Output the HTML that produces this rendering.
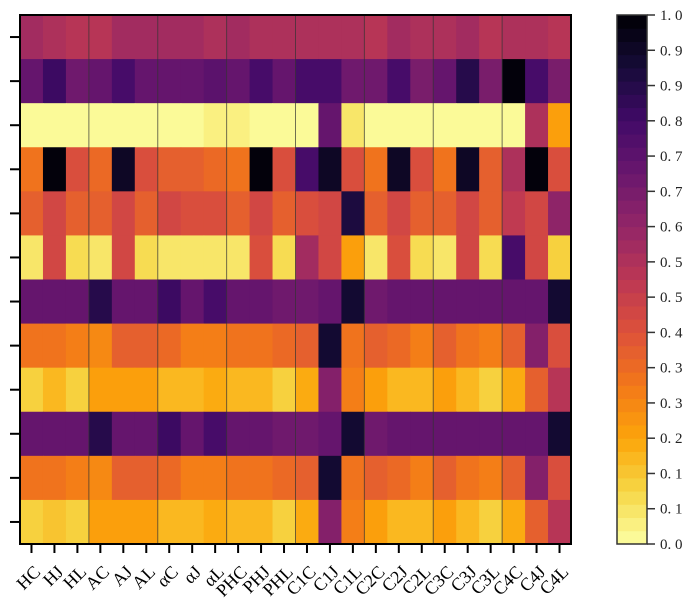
<!DOCTYPE html>
<html><head><meta charset="utf-8"><style>
body{margin:0;background:#fff;}
svg{display:block;font-family:"Liberation Serif",serif;}
</style></head><body>
<svg id="chart" width="694" height="612"></svg>
<script>
const columns=["HC","HJ","HL","AC","AJ","AL","αC","αJ","αL","PHC","PHJ","PHL","C1C","C1J","C1L","C2C","C2J","C2L","C3C","C3J","C3L","C4C","C4J","C4L"];
const row0=[.57,.54,.52,.52,.56,.56,.56,.56,.53,.56,.54,.54,.54,.53,.53,.52,.57,.54,.54,.57,.52,.54,.54,.52];
const row1=[.70,.80,.68,.70,.79,.70,.72,.71,.73,.70,.78,.70,.78,.78,.69,.69,.78,.67,.70,.85,.67,.99,.79,.67];
const row2=[0,0,0,0,0,0,0,0,.04,.03,0,0,.02,.70,.07,0,0,0,0,0,0,.01,.53,.20];
const row3=[.30,.99,.40,.33,.93,.40,.37,.37,.33,.30,.99,.40,.78,.93,.40,.30,.93,.40,.30,.93,.37,.53,.99,.40];
const row4=[.37,.44,.37,.37,.44,.37,.44,.40,.40,.37,.44,.37,.40,.44,.88,.37,.44,.37,.37,.44,.37,.48,.44,.62];
const row5=[.05,.44,.09,.05,.44,.08,.05,.05,.05,.05,.42,.09,.55,.44,.22,.05,.42,.09,.05,.44,.08,.79,.44,.12];
const row6=[.70,.70,.70,.87,.71,.70,.82,.71,.78,.70,.70,.68,.68,.71,.90,.68,.70,.70,.70,.70,.70,.70,.70,.90];
const row7=[.30,.30,.28,.26,.37,.37,.33,.28,.28,.30,.30,.33,.37,.90,.30,.37,.33,.28,.37,.30,.28,.37,.63,.40];
const row8=[.12,.15,.12,.20,.20,.20,.17,.15,.18,.15,.15,.12,.18,.63,.28,.20,.15,.15,.20,.15,.12,.18,.37,.50];
const row9=[.70,.70,.70,.87,.71,.70,.82,.71,.78,.70,.70,.68,.68,.71,.90,.68,.70,.70,.70,.70,.70,.70,.70,.90];
const row10=[.30,.30,.28,.26,.37,.37,.33,.28,.28,.30,.30,.33,.37,.90,.30,.37,.33,.28,.37,.30,.28,.37,.63,.40];
const row11=[.11,.14,.12,.20,.20,.20,.17,.15,.18,.15,.15,.12,.18,.63,.28,.20,.15,.15,.20,.15,.12,.18,.37,.50];
const rows=[row0,row1,row2,row3,row4,row5,row6,row7,row8,row9,row10,row11];
const cbTicks=["0.0","0.1","0.1","0.2","0.3","0.3","0.4","0.5","0.5","0.6","0.7","0.7","0.8","0.9","0.9","1.0"];

const NS="http://www.w3.org/2000/svg";
const svg=document.getElementById('chart');
function mk(t,a,p){const e=document.createElementNS(NS,t);for(const k in a)e.setAttribute(k,a[k]);(p||svg).appendChild(e);return e;}
const stops=[[0,0,0,4],[.1,22,11,57],[.2,66,10,104],[.3,106,23,110],[.4,147,38,103],[.5,188,55,84],[.6,221,81,58],[.7,243,120,25],[.8,252,165,10],[.9,246,215,70],[1,252,255,164]];
function inferno(t){t=Math.max(0,Math.min(1,t));for(let i=1;i<stops.length;i++){if(t<=stops[i][0]){const a=stops[i-1],b=stops[i],f=(t-a[0])/(b[0]-a[0]);return`rgb(${[1,2,3].map(j=>Math.round(a[j]+(b[j]-a[j])*f)).join(',')})`;}}return'rgb(252,255,164)';}
const N=40;
function color(v){const q=Math.min(N-1,Math.floor(v*N));return inferno(1-(q+0.5)/N);}
const L=20,R=571,T=15,B=544;
const cw=(R-L)/columns.length, rh=(B-T)/rows.length;
const xs=i=>L+i*cw, ys=j=>T+j*rh;
rows.forEach((r,j)=>r.forEach((v,i)=>{
  const c=mk('rect',{x:xs(i),y:ys(j),width:cw+0.5,height:rh+0.5,fill:color(v)});
  
  
}));
for(let k=3;k<columns.length;k+=3){
  const l=mk('line',{x1:xs(k),x2:xs(k),y1:T,y2:B,stroke:'#333',"stroke-width":1,"stroke-opacity":0.7});
  
  
}
const fr=mk('rect',{x:L,y:T,width:R-L,height:B-T,fill:'none',stroke:'#000',"stroke-width":2});


rows.forEach((r,j)=>{
  const t=mk('line',{x1:L-10,x2:L,y1:ys(j+.5),y2:ys(j+.5),stroke:'#000',"stroke-width":2});
  
  
});
columns.forEach((c,i)=>{
  const cx=xs(i+.5);
  const t=mk('line',{x1:cx,x2:cx,y1:B,y2:B+9,stroke:'#000',"stroke-width":2});
  
  
  const tx=mk('text',{transform:`translate(${cx+10},${B+29}) rotate(-45)`,"text-anchor":"end","font-size":18,fill:'#000'});
  tx.textContent=c;
  
  
});
const CL=617,CR=647;
for(let k=0;k<N;k++){
  const y0=B-(k+1)*(B-T)/N;
  const b=mk('rect',{x:CL,y:y0,width:CR-CL,height:(B-T)/N+0.5,fill:inferno(1-(k+0.5)/N)});
  
  
}
const cf=mk('rect',{x:CL,y:T,width:CR-CL,height:B-T,fill:'none',stroke:'#333',"stroke-width":1.5});


cbTicks.forEach((s,k)=>{
  const y=B-k*(B-T)/(cbTicks.length-1);
  const t=mk('line',{x1:CR,x2:CR+8,y1:y,y2:y,stroke:'#333',"stroke-width":1.5});
  
  
  const tx=mk('text',{x:CR+13,y:y+5,"font-size":15,fill:'#222'});
  tx.textContent=s.replace('.','. ');
  
  
});
</script>
</body></html>
